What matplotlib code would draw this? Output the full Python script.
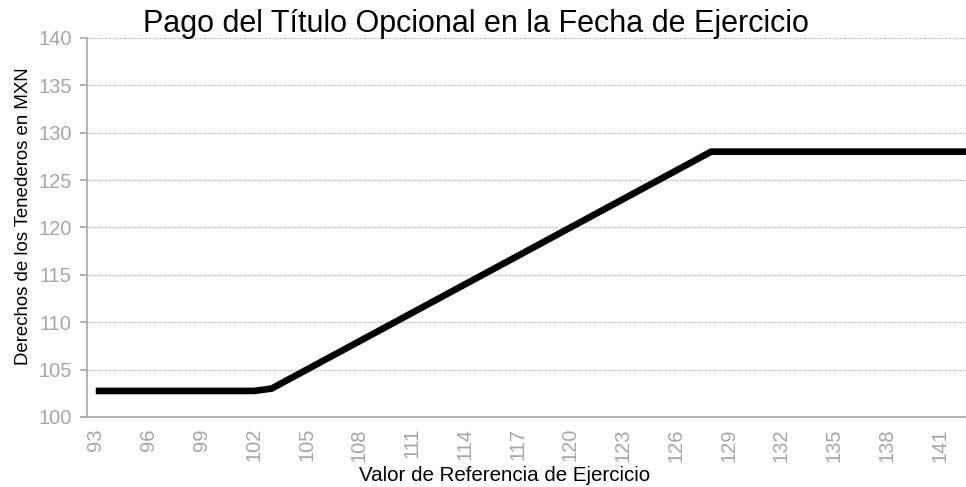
import matplotlib.pyplot as plt
import numpy as np

plt.rcParams['font.family'] = ['Liberation Sans', 'DejaVu Sans']

# Reference value categories (x axis)
strikes = list(range(93, 144))
# Payoff to holders
payoff = [102.75, 102.75, 102.75, 102.75, 102.75, 102.75, 102.75, 102.75, 102.75, 102.75,
          103, 104, 105, 106, 107, 108, 109, 110, 111, 112,
          113, 114, 115, 116, 117, 118, 119, 120, 121, 122,
          123, 124, 125, 126, 127, 128, 128, 128, 128, 128,
          128, 128, 128, 128, 128, 128, 128, 128, 128, 128, 128]
tick_labels = [str(s) for s in strikes[:-1:3]]

title = 'Pago del Título Opcional en la Fecha de Ejercicio'
xlabel = 'Valor de Referencia de Ejercicio'
ylabel = 'Derechos de los Tenederos en MXN'

grey = '#a6a6a6'

fig = plt.figure(figsize=(9.66, 4.87), dpi=100)
ax = fig.add_axes([87 / 966, 1 - 417 / 487, (966 - 87) / 966, (417 - 38) / 487])

ax.plot(strikes, payoff, color='black', linewidth=4.8, solid_joinstyle='miter', solid_capstyle='butt')

ax.set_xlim(92.5, 142.5)
ax.set_ylim(100, 140)
ax.set_yticks(np.arange(100, 141, 5))
ax.set_xticks(strikes[:-1:3])
ax.set_xticklabels(tick_labels, rotation=90)

ax.yaxis.grid(True, color='#b0b0b0', linestyle=(0, (1, 1)), linewidth=0.9)
ax.set_axisbelow(True)

for side in ['top', 'right']:
    ax.spines[side].set_visible(False)
for side in ['left', 'bottom']:
    ax.spines[side].set_color(grey)
    ax.spines[side].set_linewidth(1.2)

ax.tick_params(axis='y', colors=grey, labelsize=14.5, length=5, width=1.2, pad=6)
ax.tick_params(axis='x', colors=grey, labelsize=14.5, length=0, pad=8)

ax.set_xlabel(xlabel, fontsize=14.8, color='black', va='top')
ax.xaxis.set_label_coords(0.4755, -0.129)
ax.set_ylabel(ylabel, fontsize=13.4, color='black', va='center')
ax.yaxis.set_label_coords(-0.0728, 0.53)
fig.text(476 / 966, 1 - 32 / 487, title, ha='center', va='baseline', fontsize=22, color='black')

plt.savefig('out.png', dpi=100)
plt.close()
